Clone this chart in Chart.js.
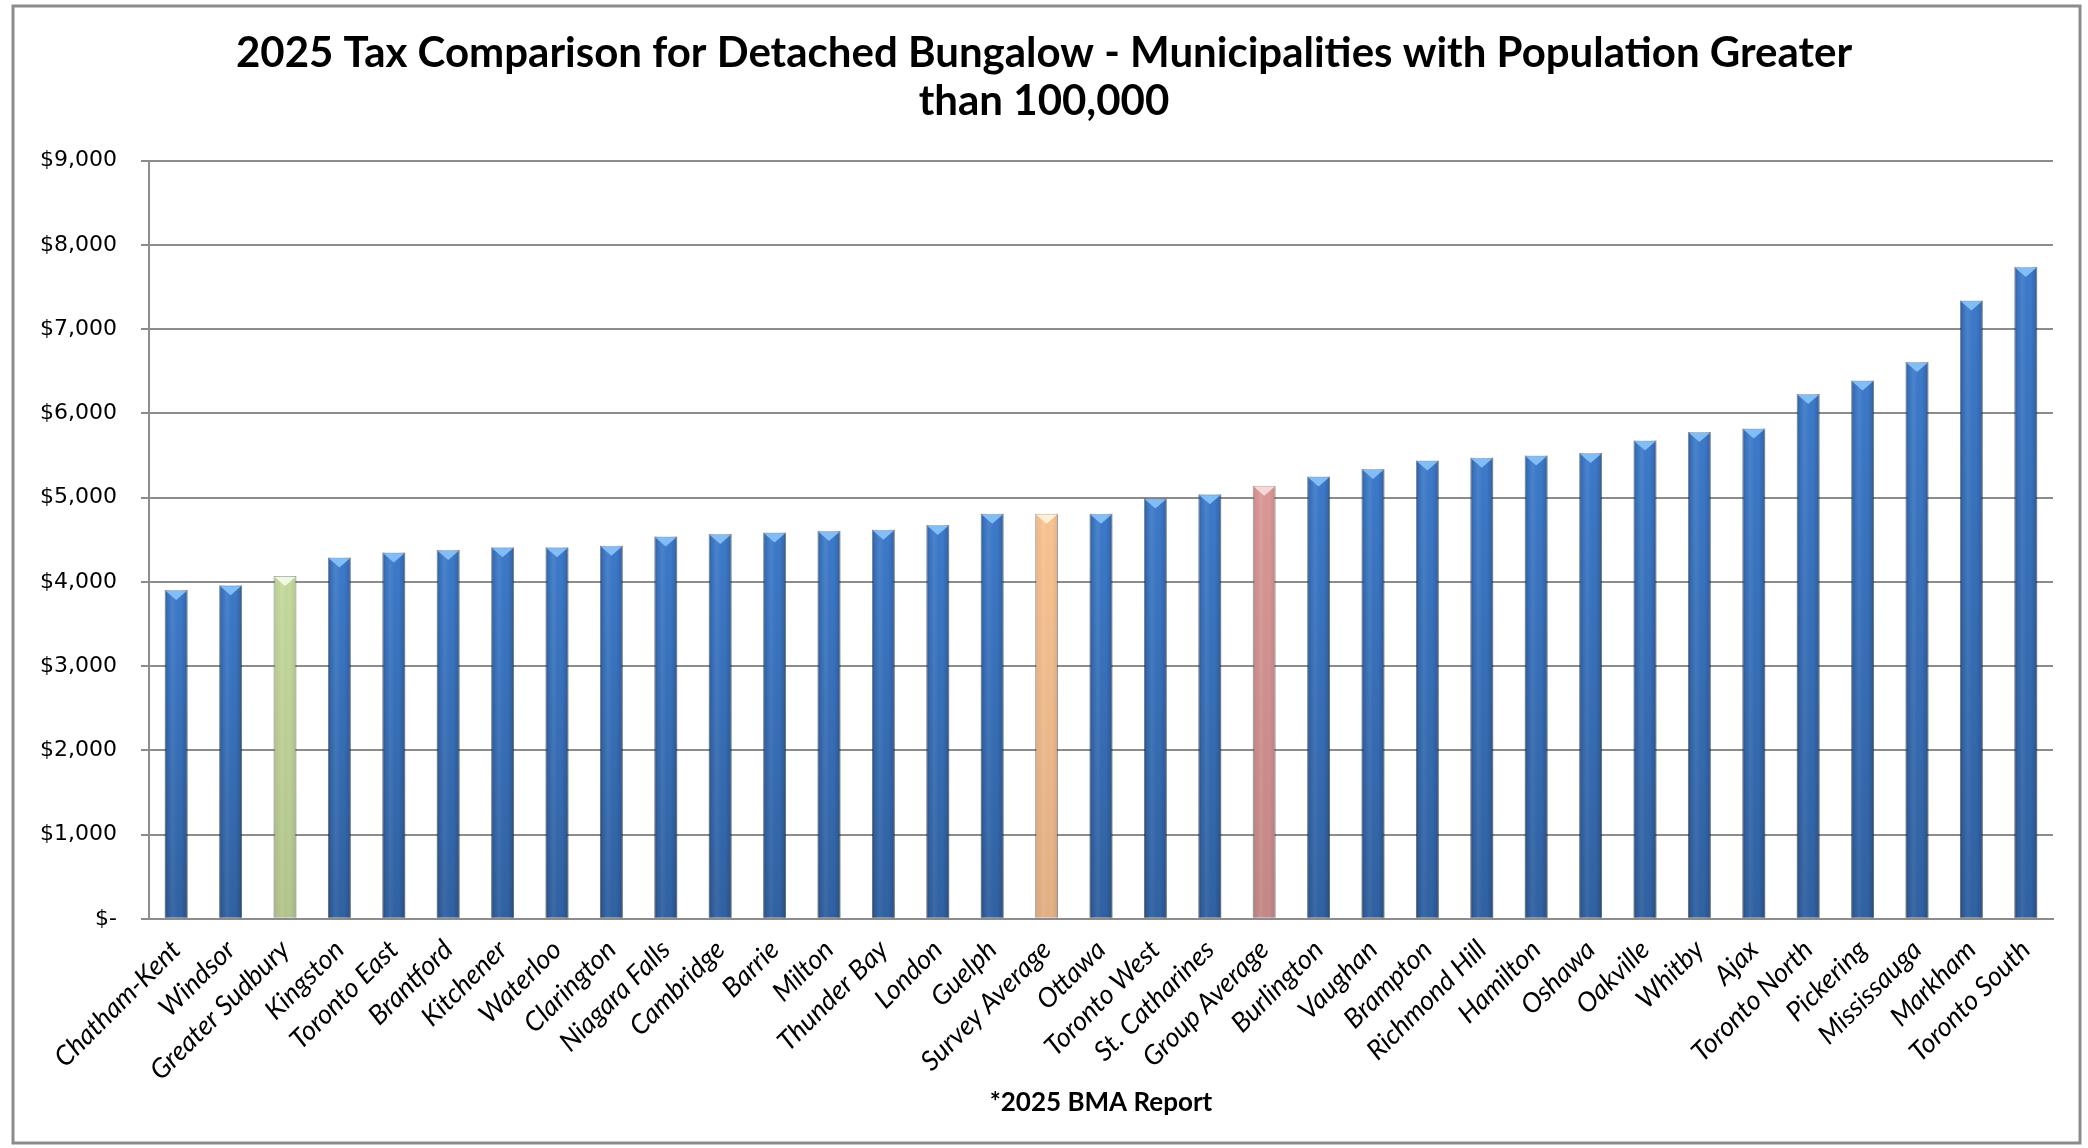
<!DOCTYPE html>
<html>
<head>
<meta charset="utf-8">
<script src="https://cdn.jsdelivr.net/npm/chart.js@4.4.1/dist/chart.umd.min.js"></script>
<style>
  html, body { margin: 0; padding: 0; background: #fff; }
  canvas { display: block; }
</style>
</head>
<body>
<canvas id="taxChart" width="2088" height="1148"></canvas>
<script>
const labels = [
    'Chatham-Kent', 'Windsor', 'Greater Sudbury', 'Kingston', 'Toronto East',
    'Brantford', 'Kitchener', 'Waterloo', 'Clarington', 'Niagara Falls',
    'Cambridge', 'Barrie', 'Milton', 'Thunder Bay', 'London',
    'Guelph', 'Survey Average', 'Ottawa', 'Toronto West', 'St. Catharines',
    'Group Average', 'Burlington', 'Vaughan', 'Brampton', 'Richmond Hill',
    'Hamilton', 'Oshawa', 'Oakville', 'Whitby', 'Ajax',
    'Toronto North', 'Pickering', 'Mississauga', 'Markham', 'Toronto South'
];

const taxes = [
    3905, 3960, 4070, 4290, 4350,
    4380, 4410, 4410, 4430, 4540,
    4570, 4585, 4605, 4620, 4675,
    4810, 4810, 4810, 4990, 5040,
    5140, 5250, 5340, 5440, 5475,
    5500, 5530, 5680, 5780, 5820,
    6230, 6390, 6610, 7340, 7740
];

const yTicks = [0, 1000, 2000, 3000, 4000, 5000, 6000, 7000, 8000, 9000];

// colour of each bar kind: [body, top bevel, shade strength]
const palette = {
    normal: ['#3c7acb', '#82bdf5', 1],
    'Greater Sudbury': ['#c6da9c', '#f2f8df', 0.45],
    'Survey Average': ['#fbc392', '#fff0d8', 0.45],
    'Group Average': ['#db9896', '#f8d8d6', 0.5]
};
const kind = name => palette[name] || palette.normal;

const ctx = document.getElementById('taxChart').getContext('2d');

const frame = {
    id: 'frame',
    beforeDraw(chart) {
        const c = chart.ctx;
        c.save();
        c.fillStyle = '#fff';
        c.fillRect(0, 0, chart.width, chart.height);
        c.strokeStyle = '#8c8c8c';
        c.lineWidth = 3;
        c.strokeRect(13, 6, 2067, 1137);
        c.restore();
    }
};

// shading and the little bevel on top of each bar
const barShine = {
    id: 'barShine',
    afterDatasetsDraw(chart) {
        const c = chart.ctx;
        c.save();
        chart.getDatasetMeta(0).data.forEach((bar, i) => {
            const p = bar.getProps(['x', 'y', 'width', 'base'], true);
            const l = p.x - p.width / 2;
            const h = p.base - p.y;
            const k = kind(labels[i]);
            const s = k[2];

            const g = c.createLinearGradient(l, 0, l + p.width, 0);
            g.addColorStop(0, 'rgba(0,0,0,' + 0.28 * s + ')');
            g.addColorStop(0.12, 'rgba(0,0,0,' + 0.08 * s + ')');
            g.addColorStop(0.35, 'rgba(255,255,255,0.08)');
            g.addColorStop(0.7, 'rgba(0,0,0,0)');
            g.addColorStop(0.9, 'rgba(0,0,0,' + 0.12 * s + ')');
            g.addColorStop(1, 'rgba(0,0,0,' + 0.32 * s + ')');
            c.fillStyle = g;
            c.fillRect(l, p.y, p.width, h);

            const v = c.createLinearGradient(0, p.y, 0, p.base);
            v.addColorStop(0, 'rgba(0,0,0,0)');
            v.addColorStop(1, 'rgba(0,0,0,' + 0.2 * s + ')');
            c.fillStyle = v;
            c.fillRect(l, p.y, p.width, h);

            c.fillStyle = k[1];
            c.beginPath();
            c.moveTo(l + 1, p.y + 1);
            c.lineTo(l + p.width - 1, p.y + 1);
            c.lineTo(p.x, p.y + 10);
            c.closePath();
            c.fill();
        });
        c.restore();
    }
};

const data = {
    labels: labels,
    datasets: [{
        label: 'Tax',
        data: taxes,
        backgroundColor: labels.map(n => kind(n)[0]),
        borderColor: 'rgba(40,60,90,0.35)',
        borderWidth: 1,
        barPercentage: 0.42,
        categoryPercentage: 1
    }]
};

const config = {
    type: 'bar',
    data: data,
    plugins: [frame, barShine],
    options: {
        responsive: false,
        devicePixelRatio: 1,
        animation: false,
        layout: {
            padding: { left: 35, right: 35, top: 0, bottom: 0 }
        },
        plugins: {
            legend: { display: false },
            tooltip: { enabled: false },
            title: {
                display: true,
                text: [
                    '2025 Tax Comparison for Detached Bungalow - Municipalities with Population Greater',
                    'than 100,000'
                ],
                color: '#000',
                font: { family: 'Lato', weight: 'bold', size: 42, lineHeight: 1.14 },
                padding: { top: 30, bottom: 35 }
            },
            subtitle: {
                display: true,
                position: 'bottom',
                fullSize: false,
                text: '*2025 BMA Report',
                color: '#000',
                font: { family: 'Lato', weight: 'bold', size: 26, lineHeight: 1.2 },
                padding: { top: 4, bottom: 30 }
            }
        },
        scales: {
            x: {
                grid: { display: false, drawTicks: false },
                border: { display: true, color: '#8c8c8c', width: 2 },
                ticks: {
                    autoSkip: false,
                    minRotation: 45,
                    maxRotation: 45,
                    padding: 15,
                    color: '#000',
                    font: { family: 'Lato', style: 'italic', size: 27 }
                },
                afterFit(scale) { scale.height = 164; }
            },
            y: {
                min: 0,
                max: 9000,
                afterBuildTicks(scale) { scale.ticks = yTicks.map(v => ({ value: v })); },
                grid: { color: '#8c8c8c', lineWidth: 2, tickLength: 8 },
                border: { display: true, color: '#8c8c8c', width: 2 },
                ticks: {
                    padding: 24,
                    color: '#000',
                    font: { family: 'DejaVu Sans', size: 22 },
                    callback: v => v === 0 ? '$-' : '$' + v.toLocaleString('en-US')
                },
                afterFit(scale) { scale.width = 114; }
            }
        }
    }
};

const taxChart = new Chart(ctx, config);
</script>
</body>
</html>
